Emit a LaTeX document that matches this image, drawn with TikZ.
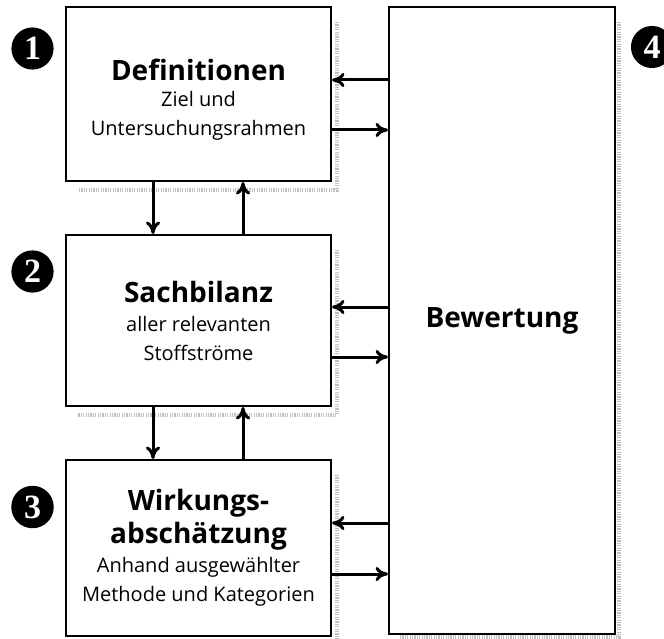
\documentclass[tikz,border=0pt]{standalone}
\usepackage{fontspec}
\setmainfont{Open Sans}
\newfontfamily\numfont{Liberation Serif}
\usepackage{tikz}
\usetikzlibrary{arrows.meta, positioning, calc}

\newcommand{\boxtitle}{\fontsize{28}{34}\selectfont\bfseries}
\newcommand{\boxbody}{\fontsize{20}{29}\selectfont\mdseries}

\begin{document}
\begin{tikzpicture}[
  x=1pt, y=-1pt,
  box/.style={
    rectangle,
    draw,
    line width=2pt,
    fill=white,
    align=center,
    inner sep=0pt,
    minimum width=265pt,
    font=\boxbody
  },
  shade/.style={
    draw=gray!50,
    line width=4.5pt,
    dash pattern=on 1.2pt off 1.2pt
  },
  num/.style={
    circle,
    fill=black,
    text=white,
    inner sep=5pt,
    minimum size=39pt,
    font=\numfont\fontsize{34}{34}\selectfont\bfseries
  },
  arrow/.style={
    -{To[length=4.4mm, width=5mm]},
    line width=3pt
  }
]
\useasboundingbox (0,0) rectangle (664,639);

% shadows
\draw[shade] (337,22) -- (337,190) -- (78,190);
\draw[shade] (337,250) -- (337,415) -- (78,415);
\draw[shade] (337,475) -- (337,639);
\draw[shade] (619,22) -- (619,637) -- (400,637);

% boxes on the left
\node[box, minimum height=174pt] (def) at (198.5,94)
  {\rule{0pt}{32pt}\boxtitle Definitionen\\[-3pt]\boxbody Ziel und\\Untersuchungsrahmen};
\node[box, minimum height=171pt] (sach) at (198.5,320.5)
  {\boxtitle Sachbilanz\\\boxbody aller relevanten\\Stoffströme};
\node[box, minimum height=176pt] (wirk) at (198.5,548)
  {\boxtitle Wirkungs-\\[4pt]\boxtitle abschätzung\\\boxbody Anhand ausgewählter\\Methode und Kategorien};

% box on the right
\node[box, minimum width=226pt, minimum height=627pt, font=\boxtitle] (bew) at (502,320.5)
  {Bewertung};

% numbers
\node[num] (n1) at (32.5,48.5) {1};
\node[num] (n2) at (32.5,271.5) {2};
\node[num] (n3) at (32.5,507) {3};
\node[num] (n4) at (652,47) {4};

% arrows between the left boxes
\draw[arrow] ([xshift=-45.5pt]def.south) -- ([xshift=-45.5pt]sach.north);
\draw[arrow] ([xshift=44.5pt]sach.north) -- ([xshift=44.5pt]def.south);
\draw[arrow] ([xshift=-45.5pt]sach.south) -- ([xshift=-45.5pt]wirk.north);
\draw[arrow] ([xshift=44.5pt]wirk.north) -- ([xshift=44.5pt]sach.south);

% arrows to and from Bewertung
\coordinate (d1) at ([yshift=14pt]def.east);
\coordinate (d2) at ([yshift=-36pt]def.east);
\coordinate (s1) at ([yshift=13.5pt]sach.east);
\coordinate (s2) at ([yshift=-36.5pt]sach.east);
\coordinate (w1) at ([yshift=25pt]wirk.east);
\coordinate (w2) at ([yshift=-26pt]wirk.east);
\draw[arrow] (bew.west |- d1) -- (d1);
\draw[arrow] (d2) -- (bew.west |- d2);
\draw[arrow] (bew.west |- s1) -- (s1);
\draw[arrow] (s2) -- (bew.west |- s2);
\draw[arrow] (bew.west |- w1) -- (w1);
\draw[arrow] (w2) -- (bew.west |- w2);

\end{tikzpicture}
\end{document}
